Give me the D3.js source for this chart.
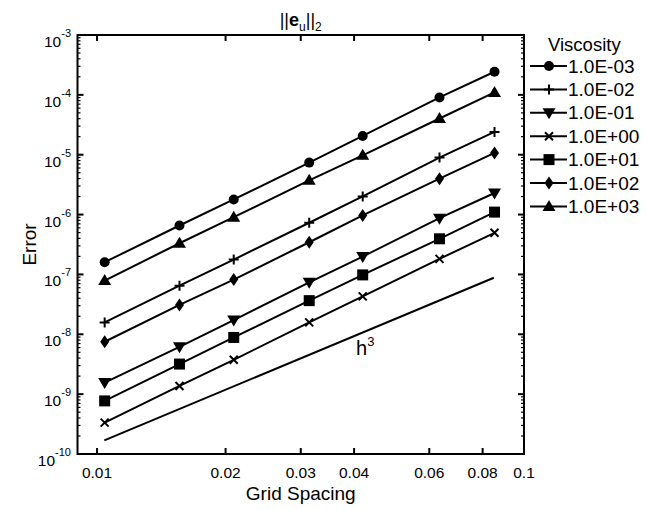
<!DOCTYPE html>
<html>
<head>
<meta charset="utf-8">
<script src="https://cdn.jsdelivr.net/npm/d3@7"></script>
<style>
  html, body { margin: 0; padding: 0; background: #fff; }
  svg { display: block; font-family: "Liberation Sans", Arial, Helvetica, sans-serif; }
</style>
</head>
<body>
<svg id="chart" width="647" height="510"></svg>
<script>
// ---- data ----
const gridSpacing = [0.01042, 0.0156, 0.0209, 0.0314, 0.0419, 0.0634, 0.0853];
const viscosityLabels = ["1.0E-03", "1.0E-02", "1.0E-01", "1.0E+00", "1.0E+01", "1.0E+02", "1.0E+03"];
const markerTypes = ["circle", "plus", "triDown", "cross", "square", "diamond", "triUp"];
const err_1e_3 = [1.60e-7, 6.57e-7, 1.79e-6, 7.38e-6, 2.06e-5, 9.05e-5, 2.43e-4];
const err_1e_2 = [1.58e-8, 6.50e-8, 1.77e-7, 7.30e-7, 2.01e-6, 8.95e-6, 2.40e-5];
const err_1e_1 = [1.56e-9, 6.18e-9, 1.73e-8, 7.38e-8, 1.99e-7, 8.71e-7, 2.29e-6];
const err_1e0  = [3.34e-10, 1.37e-9, 3.75e-9, 1.58e-8, 4.30e-8, 1.82e-7, 4.96e-7];
const err_1e1  = [7.71e-10, 3.18e-9, 8.85e-9, 3.65e-8, 9.82e-8, 3.94e-7, 1.10e-6];
const err_1e2  = [7.50e-9, 3.09e-8, 8.20e-8, 3.45e-7, 9.67e-7, 3.98e-6, 1.07e-5];
const err_1e3  = [7.88e-8, 3.32e-7, 9.05e-7, 3.73e-6, 9.78e-6, 4.03e-5, 1.10e-4];
const seriesValues = [err_1e_3, err_1e_2, err_1e_1, err_1e0, err_1e1, err_1e2, err_1e3];
const refLineX = [0.0104, 0.0850];
const refLineY = [1.69e-10, 8.8e-8];
const xTickValues = [0.01, 0.02, 0.03, 0.04, 0.06, 0.08, 0.1];
const xTickLabels = ["0.01", "0.02", "0.03", "0.04", "0.06", "0.08", "0.1"];
const yExponents = [-3, -4, -5, -6, -7, -8, -9, -10];

// ---- layout ----
const svg = d3.select("#chart");
const L = 77.5, R = 524, T = 35, B = 454;
const x = d3.scaleLog().domain([0.009, 0.1]).range([L, R]);
const y = d3.scaleLog().domain([1e-10, 1e-3]).range([B, T]);

// frame
svg.append("rect").attr("x", L).attr("y", T).attr("width", R - L).attr("height", B - T)
  .attr("fill", "none").attr("stroke", "#000").attr("stroke-width", 2);

// x ticks (top and bottom, inward)
xTickValues.filter(v => v < 0.1).forEach(v => {
  svg.append("line").attr("x1", x(v)).attr("x2", x(v)).attr("y1", B).attr("y2", B - 6)
    .attr("stroke", "#000").attr("stroke-width", 2);
  svg.append("line").attr("x1", x(v)).attr("x2", x(v)).attr("y1", T).attr("y2", T + 6)
    .attr("stroke", "#000").attr("stroke-width", 2);
});
xTickValues.forEach((v, i) => {
  svg.append("text").attr("x", x(v)).attr("y", 478).attr("text-anchor", "middle")
    .attr("font-size", 15.5).text(xTickLabels[i]);
});

// y ticks (left and right, inward) major + minor
yExponents.forEach(e => {
  const v = Math.pow(10, e);
  [[L, L + 6], [R, R - 6]].forEach(([a, b]) => {
    svg.append("line").attr("x1", a).attr("x2", b).attr("y1", y(v)).attr("y2", y(v))
      .attr("stroke", "#000").attr("stroke-width", 2);
  });
});
for (let e = -10; e < -3; e++) {
  for (let m = 2; m <= 9; m++) {
    const v = m * Math.pow(10, e);
    [[L, L + 3], [R, R - 3]].forEach(([a, b]) => {
      svg.append("line").attr("x1", a).attr("x2", b).attr("y1", y(v)).attr("y2", y(v))
        .attr("stroke", "#000").attr("stroke-width", 1.2);
    });
  }
}
yExponents.forEach(e => {
  const t = svg.append("text").attr("x", 71).attr("y", y(Math.pow(10, e)) + 12)
    .attr("text-anchor", "end").attr("font-size", 15.5);
  t.append("tspan").text("10");
  t.append("tspan").attr("dy", -10).attr("font-size", 11).text(String(e));
});

// axis titles
svg.append("text").attr("x", x(Math.sqrt(0.009 * 0.1))).attr("y", 500).attr("text-anchor", "middle")
  .attr("font-size", 19).text("Grid Spacing");
svg.append("text").attr("transform", "translate(36," + ((T + B) / 2) + ") rotate(-90)")
  .attr("text-anchor", "middle").attr("font-size", 19).text("Error");

// title
const title = svg.append("text").attr("x", (L + R) / 2).attr("y", 26).attr("text-anchor", "middle")
  .attr("font-size", 18);
title.append("tspan").text("||");
title.append("tspan").attr("font-weight", "bold").text("e");
title.append("tspan").attr("font-size", 12).attr("dy", 5).text("u");
title.append("tspan").attr("dy", -5).text("||");
title.append("tspan").attr("font-size", 12).attr("dy", 5).text("2");

// markers
function drawMarker(g, type, cx, cy) {
  const s = "#000";
  if (type === "circle") {
    g.append("circle").attr("cx", cx).attr("cy", cy).attr("r", 5).attr("fill", s);
  } else if (type === "square") {
    g.append("rect").attr("x", cx - 5.5).attr("y", cy - 5.5).attr("width", 11).attr("height", 11).attr("fill", s);
  } else if (type === "triUp") {
    g.append("path").attr("d", `M${cx},${cy - 6.5}L${cx + 6.5},${cy + 4.5}L${cx - 6.5},${cy + 4.5}Z`).attr("fill", s);
  } else if (type === "triDown") {
    g.append("path").attr("d", `M${cx},${cy + 6.5}L${cx + 6.5},${cy - 4.5}L${cx - 6.5},${cy - 4.5}Z`).attr("fill", s);
  } else if (type === "diamond") {
    g.append("path").attr("d", `M${cx},${cy - 6.5}L${cx + 4.5},${cy}L${cx},${cy + 6.5}L${cx - 4.5},${cy}Z`).attr("fill", s);
  } else if (type === "plus") {
    g.append("path").attr("d", `M${cx - 5},${cy}H${cx + 5}M${cx},${cy - 5}V${cy + 5}`)
      .attr("stroke", s).attr("stroke-width", 2).attr("fill", "none");
  } else if (type === "cross") {
    g.append("path").attr("d", `M${cx - 4},${cy - 4}L${cx + 4},${cy + 4}M${cx - 4},${cy + 4}L${cx + 4},${cy - 4}`)
      .attr("stroke", s).attr("stroke-width", 2).attr("fill", "none");
  }
}

const line = d3.line().x(d => x(d[0])).y(d => y(d[1]));
seriesValues.forEach((vals, i) => {
  const pts = gridSpacing.map((h, j) => [h, vals[j]]);
  svg.append("path").attr("d", line(pts)).attr("fill", "none").attr("stroke", "#000").attr("stroke-width", 2);
  const g = svg.append("g");
  pts.forEach(p => drawMarker(g, markerTypes[i], x(p[0]), y(p[1])));
});

// h^3 reference line
svg.append("path").attr("d", line(refLineX.map((h, j) => [h, refLineY[j]])))
  .attr("fill", "none").attr("stroke", "#000").attr("stroke-width", 2);
const hl = svg.append("text").attr("x", 356).attr("y", 355).attr("font-size", 20);
hl.append("tspan").text("h");
hl.append("tspan").attr("font-size", 13).attr("dy", -9).text("3");

// legend
svg.append("text").attr("x", 548).attr("y", 51).attr("font-size", 18.5).text("Viscosity");
viscosityLabels.forEach((lab, i) => {
  const cy = 66 + i * 23.4;
  svg.append("line").attr("x1", 530).attr("x2", 567).attr("y1", cy).attr("y2", cy)
    .attr("stroke", "#000").attr("stroke-width", 2);
  drawMarker(svg.append("g"), markerTypes[i], 549, cy);
  svg.append("text").attr("x", 568).attr("y", cy + 6.5).attr("font-size", 19).text(lab);
});
</script>
</body>
</html>
